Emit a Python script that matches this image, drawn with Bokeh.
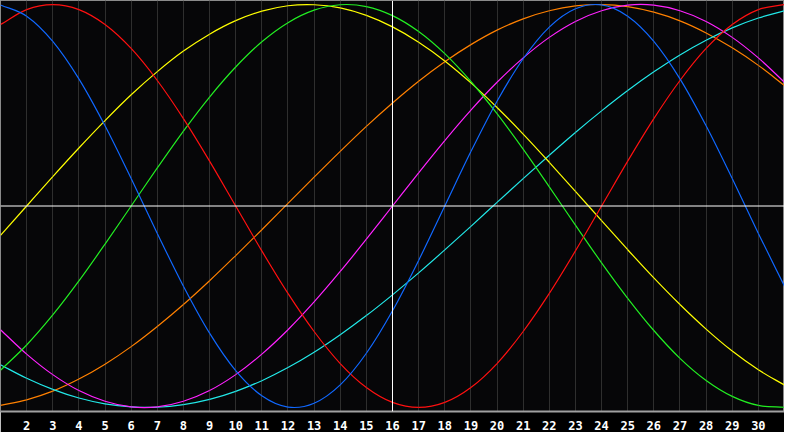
import numpy as np
from bokeh.plotting import figure
from bokeh.models import Range1d, FixedTicker, Span, ColumnDataSource
from bokeh.embed import file_html
from bokeh.resources import INLINE

days = list(range(1, 32))
tick_days = list(range(2, 31))
today = 16

physical_23 = [0.998, 0.942, 0.817, 0.631, 0.398, 0.136, -0.136, -0.398, -0.631, -0.817,
               -0.942, -0.998, -0.979, -0.888, -0.731, -0.520, -0.270, 0.0, 0.270, 0.520,
               0.731, 0.888, 0.979, 0.998, 0.942, 0.817, 0.631, 0.398, 0.136, -0.136, -0.398]
emotional_28 = [0.901, 0.975, 1.000, 0.975, 0.901, 0.782, 0.623, 0.434, 0.223, 0.0,
                -0.223, -0.434, -0.623, -0.782, -0.901, -0.975, -1.000, -0.975, -0.901, -0.782,
                -0.623, -0.434, -0.223, 0.0, 0.223, 0.434, 0.623, 0.782, 0.901, 0.975, 1.000]
intellectual_33 = [-0.815, -0.690, -0.541, -0.372, -0.189, 0.0, 0.189, 0.372, 0.541, 0.690,
                   0.815, 0.910, 0.972, 0.999, 0.990, 0.945, 0.866, 0.756, 0.618, 0.458,
                   0.282, 0.095, -0.095, -0.282, -0.458, -0.618, -0.756, -0.866, -0.945, -0.990, -0.999]
intuitive_38 = [-0.614, -0.735, -0.837, -0.916, -0.969, -0.997, -0.997, -0.969, -0.916, -0.837,
                -0.735, -0.614, -0.476, -0.325, -0.165, 0.0, 0.165, 0.325, 0.476, 0.614,
                0.735, 0.837, 0.916, 0.969, 0.997, 0.997, 0.969, 0.916, 0.837, 0.735, 0.614]
aesthetic_43 = [-0.146, 0.0, 0.146, 0.288, 0.424, 0.552, 0.667, 0.769, 0.853, 0.920,
                0.967, 0.994, 0.999, 0.983, 0.946, 0.889, 0.813, 0.720, 0.611, 0.489,
                0.357, 0.217, 0.073, -0.073, -0.217, -0.357, -0.489, -0.611, -0.720, -0.813, -0.889]
awareness_48 = [-0.990, -0.962, -0.919, -0.859, -0.785, -0.698, -0.598, -0.489, -0.371, -0.246,
                -0.118, 0.013, 0.143, 0.271, 0.395, 0.511, 0.619, 0.716, 0.801, 0.873,
                0.929, 0.969, 0.993, 1.000, 0.990, 0.962, 0.919, 0.859, 0.785, 0.698, 0.598]
spiritual_53 = [-0.788, -0.855, -0.910, -0.953, -0.982, -0.997, -0.999, -0.986, -0.960, -0.920,
                -0.867, -0.802, -0.726, -0.639, -0.544, -0.441, -0.332, -0.218, -0.101, 0.018,
                0.136, 0.252, 0.365, 0.472, 0.573, 0.666, 0.750, 0.823, 0.884, 0.933, 0.969]

series = [
    ("awareness_48", awareness_48, "#ff8000"),
    ("spiritual_53", spiritual_53, "#22e8e8"),
    ("intuitive_38", intuitive_38, "#ff22ff"),
    ("aesthetic_43", aesthetic_43, "#ffff00"),
    ("intellectual_33", intellectual_33, "#22ee22"),
    ("emotional_28", emotional_28, "#ff1010"),
    ("physical_23", physical_23, "#1068ff"),
]

p = figure(width=784, height=432, output_backend="svg", toolbar_location=None,
           x_range=Range1d(1, 31), y_range=Range1d(-1.02, 1.02),
           background_fill_color="#060608", border_fill_color="#000000",
           min_border_left=0, min_border_right=0, min_border_top=0, min_border_bottom=20)
p.yaxis.visible = False
p.ygrid.visible = False
p.outline_line_color = "#8a8a8a"
p.outline_line_width = 1

p.xgrid.ticker = FixedTicker(ticks=days)
p.xgrid.grid_line_color = "#2e2e2e"
p.xgrid.grid_line_width = 1

ax = p.xaxis[0]
ax.ticker = FixedTicker(ticks=tick_days)
ax.major_tick_line_color = None
ax.minor_tick_line_color = None
ax.axis_line_color = "#a0a0a0"
ax.axis_line_width = 2
ax.major_label_text_color = "#ffffff"
ax.major_label_text_font = "DejaVu Sans Mono"
ax.major_label_text_font_style = "bold"
ax.major_label_text_font_size = "12px"
ax.major_label_standoff = 3

p.add_layout(Span(location=0, dimension="width", line_color="#ffffff", line_width=1))
p.add_layout(Span(location=today, dimension="height", line_color="#ffffff", line_width=1))

# smooth drawing of each series through its daily values (Catmull-Rom as cubic Bezier)
for name, vals, color in series:
    x = np.array(days, dtype=float)
    y = np.array(vals, dtype=float)
    xp = np.concatenate([[2 * x[0] - x[1]], x, [2 * x[-1] - x[-2]]])
    yp = np.concatenate([[2 * y[0] - y[1]], y, [2 * y[-1] - y[-2]]])
    i = np.arange(1, len(xp) - 2)
    src = ColumnDataSource(dict(
        x0=xp[i], y0=yp[i], x1=xp[i + 1], y1=yp[i + 1],
        cx0=xp[i] + (xp[i + 1] - xp[i - 1]) / 6, cy0=yp[i] + (yp[i + 1] - yp[i - 1]) / 6,
        cx1=xp[i + 1] - (xp[i + 2] - xp[i]) / 6, cy1=yp[i + 1] - (yp[i + 2] - yp[i]) / 6,
    ))
    p.bezier(x0="x0", y0="y0", x1="x1", y1="y1", cx0="cx0", cy0="cy0", cx1="cx1", cy1="cy1",
             source=src, line_color=color, line_width=1.2)

open("out.html", "w").write(file_html(p, INLINE))
